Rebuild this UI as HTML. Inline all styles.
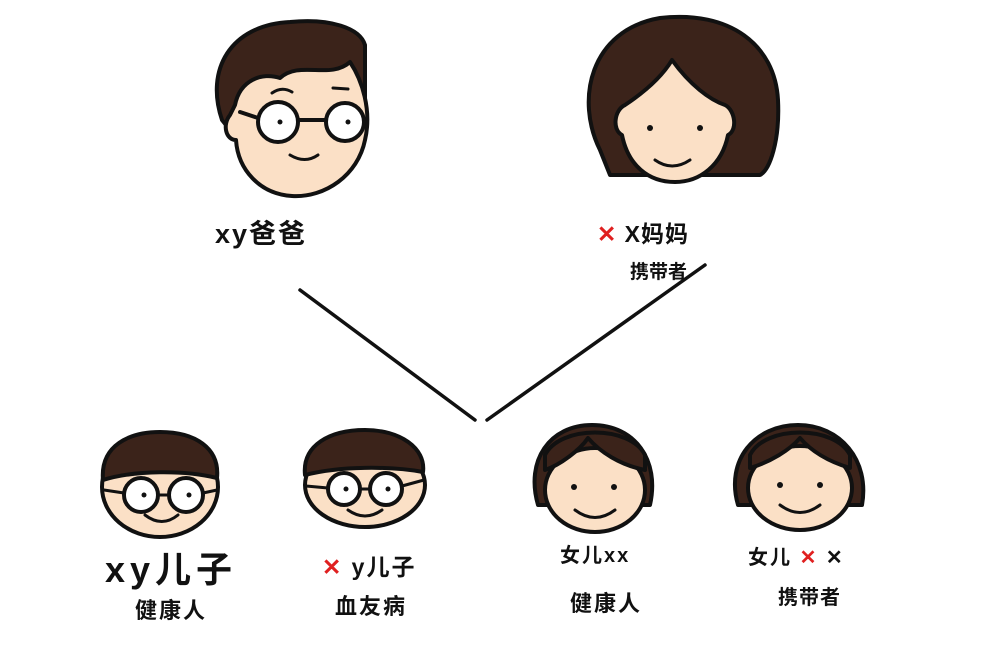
<!DOCTYPE html>
<html><head><meta charset="utf-8"><style>
html,body{margin:0;padding:0;background:#fff;}
svg{display:block;}
text{font-family:"Liberation Sans","Noto Sans CJK SC",sans-serif;fill:#111;font-weight:bold;}
</style></head><body>
<svg width="1000" height="652" viewBox="0 0 1000 652" xmlns="http://www.w3.org/2000/svg">
<g stroke="#111" stroke-width="4" stroke-linecap="round" stroke-linejoin="round">
<!-- Dad -->
<path d="M222,120 C205,70 230,25 290,22 C330,18 360,28 365,45 L365,110 L230,130 Z" fill="#3b231a"/>
<path d="M235,105 C240,80 262,72 280,78 C300,60 330,80 350,62 C362,80 372,110 365,140 C358,175 325,198 292,196 C260,194 238,170 236,140 C226,140 222,125 230,115 Z" fill="#fbe0c6"/>
<circle cx="278" cy="122" r="20" fill="#fff"/>
<circle cx="345" cy="122" r="19" fill="#fff"/>
<path d="M298,120 L326,120 M258,118 L240,112" fill="none"/>
<path d="M290,155 Q305,164 318,155" fill="none" stroke-width="3"/>
<path d="M272,93 Q282,86 292,92 M333,88 L348,89" fill="none" stroke-width="3"/>
<!-- Mom -->
<path d="M600,150 C575,100 590,30 660,18 C730,10 775,45 778,100 C780,140 770,170 760,175 L610,175 Z" fill="#3b231a"/>
<path d="M625,105 C640,95 660,80 672,60 C690,85 710,100 725,105 C735,110 738,130 728,135 C722,165 700,182 675,182 C648,182 628,165 622,135 C612,130 614,110 625,105 Z" fill="#fbe0c6"/>
<path d="M655,160 Q672,172 690,160" fill="none" stroke-width="3"/>
<!-- lines -->
<line x1="300" y1="290" x2="475" y2="420" stroke-width="3.5"/>
<line x1="487" y1="420" x2="705" y2="265" stroke-width="3.5"/>
<!-- Son1 -->
<ellipse cx="160" cy="487" rx="58" ry="50" fill="#fbe0c6"/>
<path d="M103,480 C100,445 130,432 160,432 C195,432 220,448 217,478 C185,470 135,470 103,480 Z" fill="#3b231a"/>
<circle cx="141" cy="495" r="17" fill="#fff"/>
<circle cx="186" cy="495" r="17" fill="#fff"/>
<path d="M158,495 L169,495 M124,493 L104,490 M203,493 L217,490" fill="none" stroke-width="3"/>
<path d="M145,515 Q162,528 178,515" fill="none" stroke-width="3"/>
<!-- Son2 -->
<ellipse cx="365" cy="485" rx="60" ry="42" fill="#fbe0c6"/>
<path d="M305,475 C302,445 330,430 365,430 C400,430 426,448 423,472 C390,466 340,466 305,475 Z" fill="#3b231a"/>
<circle cx="344" cy="489" r="16" fill="#fff"/>
<circle cx="386" cy="489" r="16" fill="#fff"/>
<path d="M360,489 L370,489 M328,488 L306,486 M402,486 L424,480" fill="none" stroke-width="3"/>
<path d="M348,510 Q365,522 382,510" fill="none" stroke-width="3"/>
<!-- Daughter1 -->
<path d="M538,505 C525,460 550,425 592,425 C635,425 660,460 650,505 Z" fill="#3b231a"/>
<ellipse cx="595" cy="490" rx="50" ry="42" fill="#fbe0c6"/>
<path d="M545,470 C560,465 580,450 588,438 C600,452 620,465 645,470 L645,455 C630,425 560,425 545,455 Z" fill="#3b231a"/>
<path d="M575,510 Q595,525 615,510" fill="none" stroke-width="3"/>
<!-- Daughter2 -->
<path d="M738,505 C725,460 755,425 798,425 C840,425 870,460 862,505 Z" fill="#3b231a"/>
<ellipse cx="800" cy="488" rx="52" ry="42" fill="#fbe0c6"/>
<path d="M750,468 C770,462 790,450 800,438 C812,452 830,462 850,468 L850,455 C835,425 765,425 750,455 Z" fill="#3b231a"/>
<path d="M780,505 Q800,520 820,505" fill="none" stroke-width="3"/>
</g>
<g fill="#111">
<circle cx="280" cy="122" r="2.5"/><circle cx="348" cy="122" r="2.5"/>
<circle cx="650" cy="128" r="3"/><circle cx="700" cy="128" r="3"/>
<circle cx="144" cy="495" r="2.5"/><circle cx="189" cy="495" r="2.5"/>
<circle cx="346" cy="489" r="2.5"/><circle cx="388" cy="489" r="2.5"/>
<circle cx="574" cy="487" r="3"/><circle cx="614" cy="487" r="3"/>
<circle cx="780" cy="485" r="3"/><circle cx="820" cy="485" r="3"/>
</g>
<text x="215" y="243" font-size="27" letter-spacing="2">xy爸爸</text>
<text x="597" y="242" font-size="23" letter-spacing="1"><tspan fill="#e02020">✕</tspan> X妈妈</text>
<text x="630" y="278" font-size="19">携带者</text>
<text x="105" y="582" font-size="36" letter-spacing="5">xy儿子</text>
<text x="135" y="618" font-size="22" letter-spacing="2">健康人</text>
<text x="322" y="575" font-size="23" letter-spacing="2"><tspan fill="#e02020">✕</tspan> y儿子</text>
<text x="335" y="614" font-size="22" letter-spacing="2">血友病</text>
<text x="560" y="562" font-size="20" letter-spacing="2">女儿xx</text>
<text x="570" y="611" font-size="22" letter-spacing="2">健康人</text>
<text x="748" y="564" font-size="20" letter-spacing="2">女儿 <tspan fill="#e02020">✕</tspan> ✕</text>
<text x="778" y="604" font-size="20" letter-spacing="1">携带者</text>
</svg>
</body></html>
